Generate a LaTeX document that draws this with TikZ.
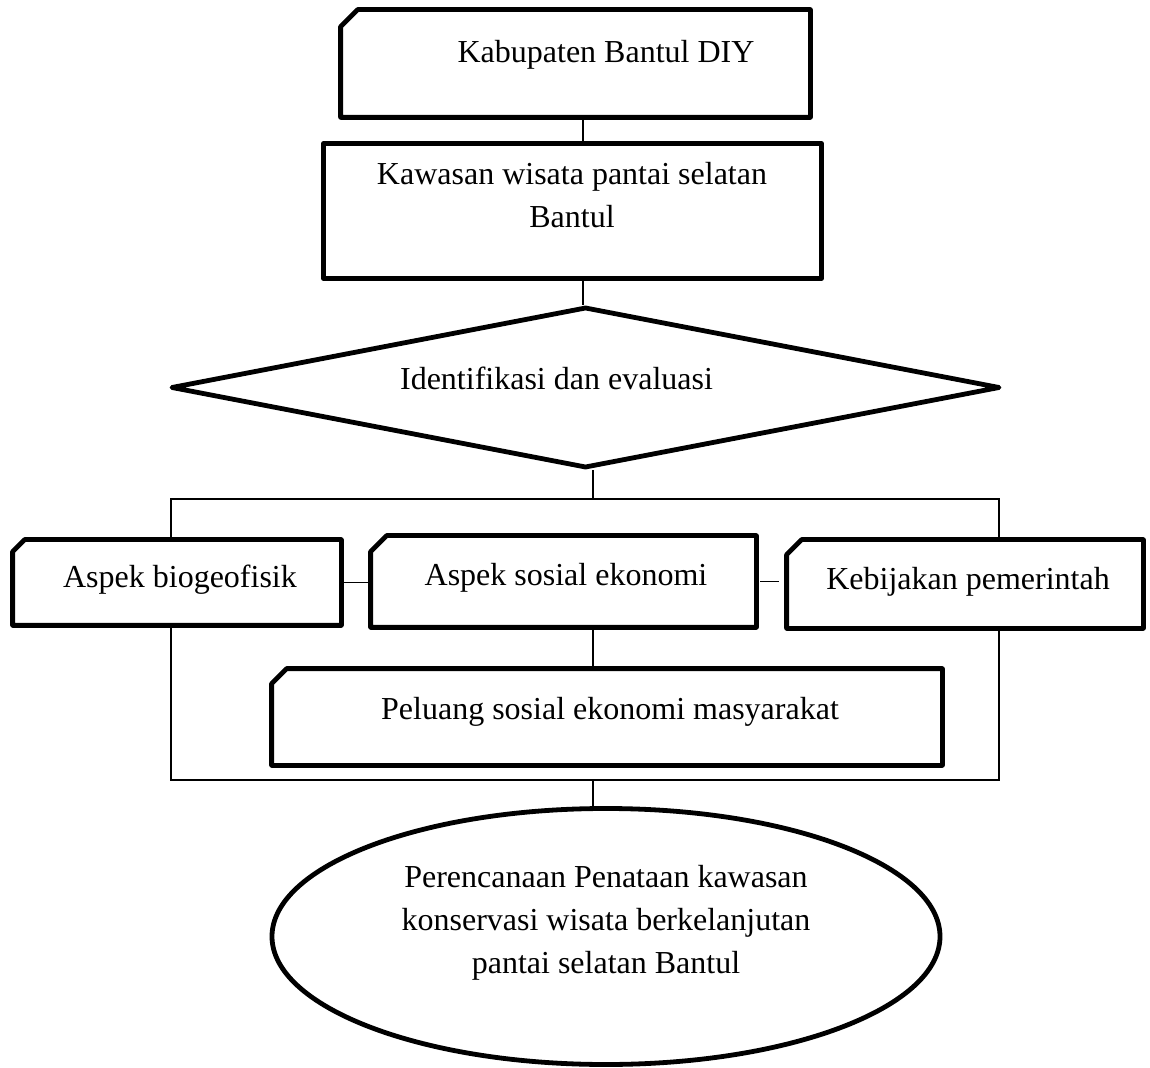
\documentclass[tikz,border=0pt]{standalone}
\usepackage{fontspec}
\setmainfont{Liberation Serif}
\usetikzlibrary{calc,shapes.geometric}
\begin{document}
\begin{tikzpicture}[x=0.5pt,y=-0.5pt,
  box/.style={rectangle,draw=none,inner sep=0pt},
  border/.style={line width=2.4pt,line join=round,fill=white},
  conn/.style={line width=0.9pt},
  txt/.style={inner sep=0pt,anchor=base,font=\fontsize{16pt}{21.5pt}\selectfont,align=center}]
\useasboundingbox (0,0) rectangle (1150,1068);
% invisible placeholders for the boxes
\node[box,minimum width=234.5pt,minimum height=53.5pt] (kab) at (575.5,63.5) {};
\node[box,minimum width=248.5pt,minimum height=67pt] (kaw) at (572.5,211) {};
\node[box,minimum width=164pt,minimum height=42.5pt] (bio) at (177,582.5) {};
\node[box,minimum width=192.5pt,minimum height=45.5pt] (sos) at (563.5,581.5) {};
\node[box,minimum width=178pt,minimum height=44pt] (keb) at (965,584) {};
\node[box,minimum width=335pt,minimum height=48pt] (pel) at (607,717) {};
\node[diamond,draw,border,inner sep=0pt,minimum width=414.5pt,minimum height=80.5pt] (dia) at (585.5,387.5) {};
\node[ellipse,draw,border,inner sep=0pt,minimum width=334pt,minimum height=128pt] (ell) at (606,936.5) {};
% frame and connectors
\coordinate (ftl) at (171,499);
\coordinate (ftr) at (999,499);
\coordinate (fbr) at (999,780);
\coordinate (fbl) at (171,780);
\coordinate (jt) at (593,499);
\coordinate (jb) at (593,780);
\coordinate (sp) at (583,300);
\draw[conn] (ftl) -- (ftr) -- (fbr) -- (fbl) -- cycle;
\draw[conn] (kab.south -| sp) -- (kaw.north -| sp);
\draw[conn] (kaw.south -| sp) -- (dia.north -| sp);
\draw[conn] (dia.south -| jt) -- (jt);
\draw[conn] (jb) -- (ell.north -| jb);
\draw[conn] (bio.east) -- (bio.east -| sos.west);
\draw[conn] ($(sos.east)+(4,0)$) -- ($(keb.west |- sos.east)+(-8,0)$);
\draw[conn] (sos.south -| jt) -- (pel.north -| jt);
% box outlines
\draw[border] (kaw.north west) rectangle (kaw.south east);
\foreach \n/\c in {kab/17,bio/12,sos/16,keb/15,pel/15}
  \draw[border] ($(\n.north west)+(0,\c)$) -- ($(\n.north west)+(\c,0)$) -- (\n.north east) -- (\n.south east) -- (\n.south west) -- cycle;
% texts
\node[txt] (tkab) at (606,63) {Kabupaten Bantul DIY};
\node[txt] (tkaw) at (572,228) {Kawasan wisata pantai selatan\\Bantul};
\node[txt] (tdia) at (556.5,390) {Identifikasi dan evaluasi};
\node[txt] (tbio) at (180,588) {Aspek biogeofisik};
\node[txt] (tsos) at (566,586) {Aspek sosial ekonomi};
\node[txt] (tkeb) at (968,589) {Kebijakan pemerintah};
\node[txt] (tpel) at (610,719) {Peluang sosial ekonomi masyarakat};
\node[txt] (tell) at (606,973) {Perencanaan Penataan kawasan\\konservasi wisata berkelanjutan\\pantai selatan Bantul};
\end{tikzpicture}
\end{document}
